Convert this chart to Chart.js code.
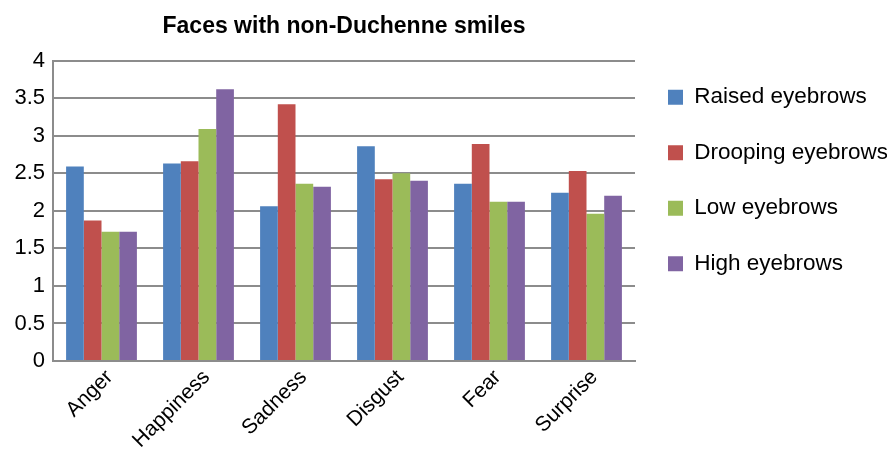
<!DOCTYPE html>
<html>
<head>
<meta charset="utf-8">
<script src="https://cdn.jsdelivr.net/npm/chart.js@4"></script>
<style>
  html, body { margin: 0; padding: 0; background: #fff; }
  #wrap { width: 887px; height: 449px; }
</style>
</head>
<body>
<div id="wrap"><canvas id="chart" width="887" height="449"></canvas></div>
<script>
// ── Data ─────────────────────────────────────────────────
const categories = ['Anger', 'Happiness', 'Sadness', 'Disgust', 'Fear', 'Surprise'];
const raised   = [2.59, 2.63, 2.06, 2.86, 2.36, 2.24];
const drooping = [1.87, 2.66, 3.42, 2.42, 2.89, 2.53];
const low      = [1.72, 3.09, 2.36, 2.50, 2.12, 1.96];
const high     = [1.72, 3.62, 2.32, 2.40, 2.12, 2.20];
const yTicks   = [0, 0.5, 1, 1.5, 2, 2.5, 3, 3.5, 4];

const FONT = 'Liberation Sans, Arial, sans-serif';
const gridColor = '#8c8c8c';

const ctx = document.getElementById('chart');
new Chart(ctx, {
  type: 'bar',
  data: {
    labels: categories,
    datasets: [
      { label: 'Raised eyebrows',   data: raised,   backgroundColor: '#4f81bd' },
      { label: 'Drooping eyebrows', data: drooping, backgroundColor: '#c0504d' },
      { label: 'Low eyebrows',      data: low,      backgroundColor: '#9bbb59' },
      { label: 'High eyebrows',     data: high,     backgroundColor: '#8064a2' }
    ]
  },
  options: {
    responsive: false,
    animation: false,
    devicePixelRatio: 1,
    datasets: { bar: { barPercentage: 1, categoryPercentage: 0.73, borderWidth: 0 } },
    layout: { padding: 0 },
    plugins: {
      tooltip: { enabled: false },
      title: {
        display: true,
        text: 'Faces with non-Duchenne smiles',
        fullSize: false,
        color: '#000',
        font: { family: FONT, size: 23, weight: 'bold' },
        padding: { top: 13, bottom: 20 }
      },
      legend: {
        position: 'right',
        align: 'start',
        maxWidth: 252,
        title: { display: true, text: '', padding: { top: 41, bottom: 0 }, font: { size: 10 } },
        labels: {
          color: '#000',
          font: { family: FONT, size: 22.5 },
          boxWidth: 15,
          boxHeight: 15,
          padding: 33
        }
      }
    },
    scales: {
      x: {
        grid: { display: false, drawTicks: false },
        border: { display: true, color: gridColor, width: 2 },
        ticks: {
          color: '#000',
          font: { family: FONT, size: 21 },
          maxRotation: 45,
          minRotation: 45,
          padding: 4,
          labelOffset: 8
        },
        afterFit: (s) => { s.height = 88; }
      },
      y: {
        min: 0,
        max: 4,
        afterBuildTicks: (s) => { s.ticks = yTicks.map(v => ({ value: v })); },
        grid: { color: gridColor, lineWidth: 2, drawTicks: false },
        border: { display: true, color: gridColor, width: 2 },
        ticks: {
          color: '#000',
          font: { family: FONT, size: 22 },
          padding: 8,
          callback: v => String(v)
        },
        afterFit: (s) => { s.width = 53; }
      }
    }
  }
});
</script>
</body>
</html>
